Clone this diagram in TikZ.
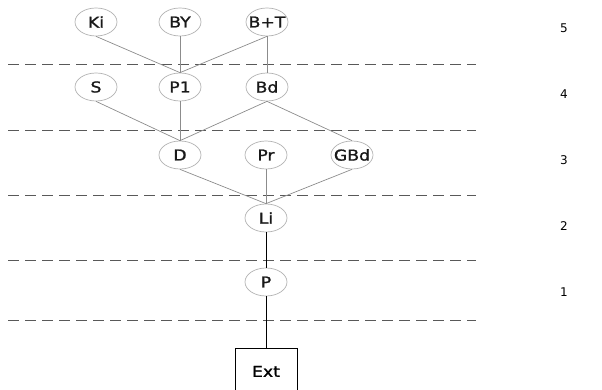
\documentclass[tikz,border=0pt]{standalone}
\usepackage{fontspec}
\setmainfont{DejaVu Sans}
\newfontfamily\lblfont[FakeStretch=1.15,FakeBold=1.2]{DejaVu Sans}
\usetikzlibrary{positioning,shapes.geometric}

\begin{document}
\begin{tikzpicture}[
  x=1pt, y=-1pt,
  lvl/.style={draw=black!30, line width=0.7pt, ellipse, minimum width=42pt, minimum height=28pt, inner xsep=-6pt, inner ysep=0pt, font=\lblfont\fontsize{15}{17}\selectfont, text=black!90},
  ext/.style={draw, line width=0.8pt, minimum width=62pt, minimum height=46pt, anchor=north, font=\lblfont\fontsize{15}{17}\selectfont},
  lnk/.style={draw=black!45, line width=0.7pt},
  hard/.style={draw=black, line width=1pt},
  sep/.style={draw=black!65, line width=1pt, dash pattern=on 11pt off 6pt},
  num/.style={font=\fontsize{12}{14}\selectfont}
]
  \useasboundingbox (0,0) rectangle (602,390);

  % Level separators
  \foreach \y in {65,131,196,260,320}
    \draw[sep] (8,\y) -- (476,\y);

  % Level numbers
  \node[num] (n5) at (564,28) {5};
  \node[num] (n4) at (564,94) {4};
  \node[num] (n3) at (564,160) {3};
  \node[num] (n2) at (564,226) {2};
  \node[num] (n1) at (564,292) {1};

  % Top row
  \node[lvl] (ki)  at (96,22)  {Ki};
  \node[lvl] (by)  at (180,22) {BY};
  \node[lvl] (bt)  at (267,22) {B+T};

  % Second row
  \node[lvl] (s)   at (96,87)  {S};
  \node[lvl] (p1)  at (180,87) {P1};
  \node[lvl] (bd)  at (267,87) {Bd};

  % Third row
  \node[lvl] (d)   at (180,155) {D};
  \node[lvl] (pr)  at (266,155) {Pr};
  \node[lvl] (gbd) at (352,155) {GBd};

  % Lower chain
  \node[lvl] (li)  at (266,218) {Li};
  \node[lvl] (p)   at (266,282) {P};
  \node[ext] (ex)  at (266,348) {Ext};

  % Links
  \draw[lnk] (ki.south) -- (p1.north);
  \draw[lnk] (by.south) -- (p1.north);
  \draw[lnk] (bt.south) -- (p1.north);
  \draw[lnk] (bt.south) -- (bd.north);
  \draw[lnk] (s.south) -- (d.north);
  \draw[lnk] (p1.south) -- (d.north);
  \draw[lnk] (bd.south) -- (d.north);
  \draw[lnk] (bd.south) -- (gbd.north);
  \draw[lnk] (d.south) -- (li.north);
  \draw[lnk] (pr.south) -- (li.north);
  \draw[lnk] (gbd.south) -- (li.north);
  \draw[hard] (li.south) -- (p.north);
  \draw[hard] (p.south) -- (ex.north);
\end{tikzpicture}
\end{document}
